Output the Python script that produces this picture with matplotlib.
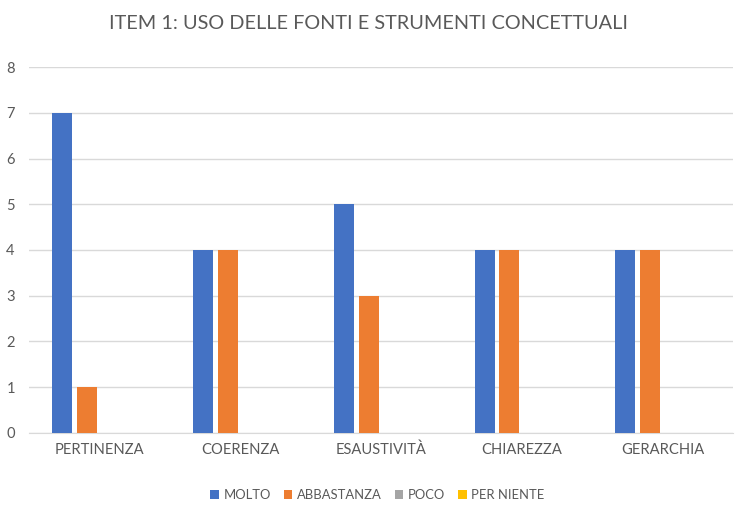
import numpy as np
import matplotlib
matplotlib.use("Agg")
import matplotlib.pyplot as plt

categories = ["PERTINENZA", "COERENZA", "ESAUSTIVITÀ", "CHIAREZZA", "GERARCHIA"]
series_names = ["MOLTO", "ABBASTANZA", "POCO", "PER NIENTE"]
molto = [7, 4, 5, 4, 4]
abbastanza = [1, 4, 3, 4, 4]
poco = [0, 0, 0, 0, 0]
per_niente = [0, 0, 0, 0, 0]
colors = ["#4472c4", "#ed7d31", "#a5a5a5", "#ffc000"]

plt.rcParams["font.family"] = ["Lato", "DejaVu Sans"]
txt = "#595959"

fig = plt.figure(figsize=(7.37, 5.05), dpi=100)
ax = fig.add_axes([0.039, 0.143, 0.956, 0.724])

x = np.arange(len(categories))
slot = 0.177
width = 0.142
for i, (vals, name, col) in enumerate(zip([molto, abbastanza, poco, per_niente], series_names, colors)):
    ax.bar(x + (i - 1.5) * slot, vals, width, color=col, label=name, zorder=3)

ax.set_xlim(-0.5, len(categories) - 0.5)
ax.set_ylim(0, 8)
ax.set_yticks(range(0, 9))
ax.set_xticks(x)
ax.set_xticklabels(categories)
ax.grid(axis="y", color="#d9d9d9", lw=1, zorder=0)
for s in ["top", "right", "left"]:
    ax.spines[s].set_visible(False)
ax.spines["bottom"].set_color("#d9d9d9")
ax.tick_params(axis="both", length=0, colors=txt, labelsize=10.6)
ax.tick_params(axis="x", pad=7)
ax.tick_params(axis="y", pad=10)

fig.suptitle("ITEM 1: USO DELLE FONTI E STRUMENTI CONCETTUALI",
             color=txt, fontsize=14.3, y=0.97)
fig.legend(loc="lower center", bbox_to_anchor=(0.512, -0.016), ncol=4, frameon=False,
           fontsize=9.4, handlelength=0.65, handleheight=0.65, columnspacing=1.0,
           handletextpad=0.35, labelcolor=txt)

fig.savefig("out.png", dpi=100)
